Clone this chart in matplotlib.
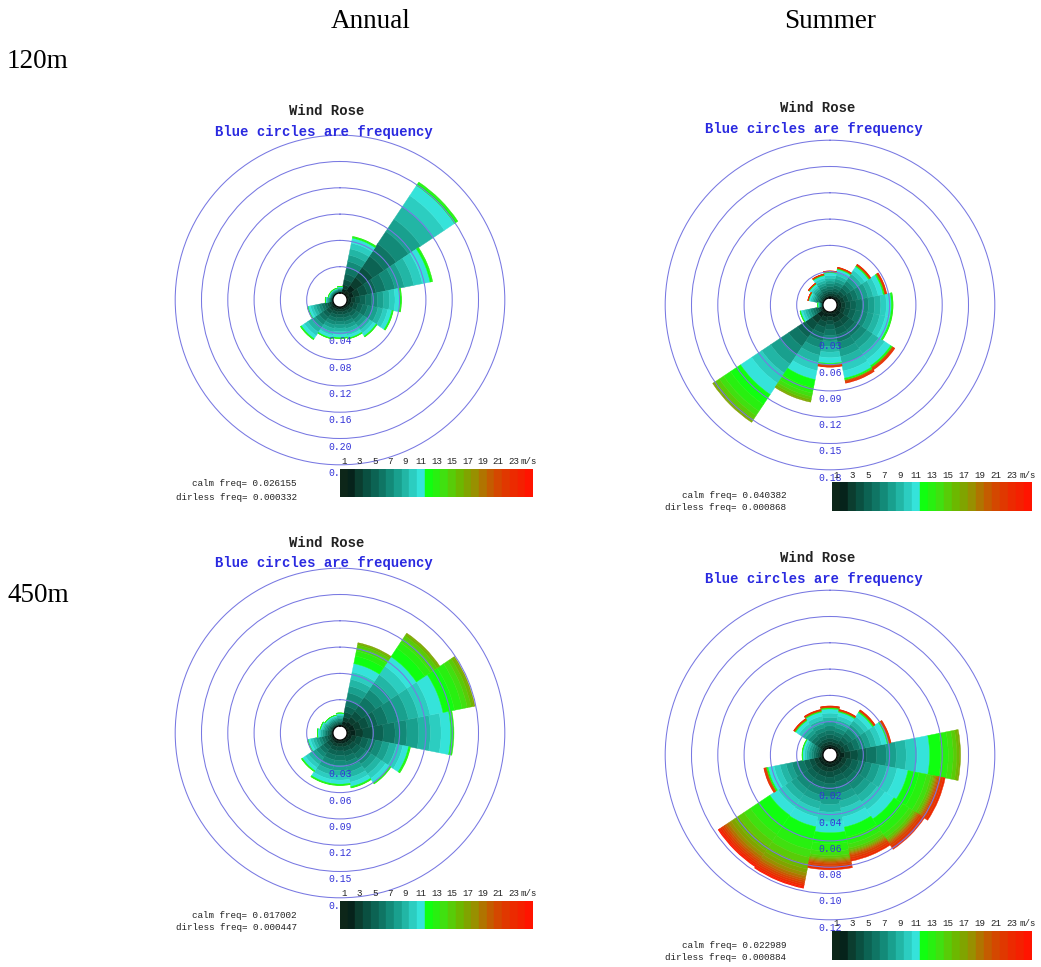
#!/usr/bin/env python3
"""
Wind rose comparison (120m / 450m, annual / summer), 16 sectors,
stacked by 1 m/s speed bins.  Saves out.png
"""
import numpy as np
import matplotlib
matplotlib.use("Agg")
import matplotlib.pyplot as plt

W, H = 1041, 967          # output size in pixels (dpi 100)
RING_PX = 26.3            # pixel gap between frequency circles
HOLE_PX = 7               # white hole in the middle

DIRS = ["N", "NNE", "NE", "ENE", "E", "ESE", "SE", "SSE",
        "S", "SSW", "SW", "WSW", "W", "WNW", "NW", "NNW"]

SPEED_LABELS = ["1", "3", "5", "7", "9", "11", "13", "15", "17", "19", "21", "23", "m/s"]
SPEED_COLORS = ["#0d2619", "#06231b", "#0b3d2f", "#0a5041", "#0c6353", "#0f7564",
                "#138a78", "#19a08e", "#22b6a5", "#2ccdc0", "#35e3da",
                "#10ff10", "#28f010", "#40e010", "#58cc08", "#6cb800", "#80a400",
                "#989000", "#b07400", "#c45c00", "#d44800", "#e03800", "#ec2a00",
                "#f42000", "#ff1400"]

# share of each 1 m/s bin inside one sector
PROFILES = {
    "calm":   [0.03, 0.05, 0.07, 0.09, 0.10, 0.11, 0.11, 0.11, 0.11, 0.10, 0.09, 0.02, 0.01],
    "rim":    [0.03, 0.05, 0.07, 0.08, 0.09, 0.10, 0.10, 0.10, 0.10, 0.10, 0.10, 0.02, 0.01,
               0, 0, 0, 0, 0, 0, 0.01, 0.01, 0.01, 0.01],
    "breezy": [0.02, 0.04, 0.05, 0.06, 0.07, 0.08, 0.08, 0.08, 0.08, 0.09, 0.10, 0.09, 0.06,
               0.04, 0.03, 0.02, 0.01],
    "gusty":  [0.02, 0.03, 0.04, 0.05, 0.06, 0.06, 0.06, 0.07, 0.07, 0.09, 0.10, 0.10, 0.07,
               0.04, 0.02, 0.01, 0.01, 0.01, 0.01, 0.01, 0.02, 0.02, 0.02],
    "windy":  [0.015, 0.025, 0.035, 0.04, 0.045, 0.05, 0.05, 0.05, 0.055, 0.065, 0.075, 0.10, 0.08,
               0.06, 0.05, 0.04, 0.03, 0.025, 0.02, 0.015, 0.015, 0.015, 0.015, 0.01, 0.005],
}

# ── 120 m annual ────────────────────────────────────────────────
A120_FREQ = [0.010, 0.088, 0.205, 0.133, 0.083, 0.072, 0.057, 0.050,
             0.048, 0.050, 0.062, 0.040, 0.012, 0.008, 0.008, 0.008]
A120_KIND = ["calm"] * 16
A120_RINGS = ["0.04", "0.08", "0.12", "0.16", "0.20", "0.24"]
A120_CALM = ("0.026155", "0.000332")

# ── 120 m summer ────────────────────────────────────────────────
S120_FREQ = [0.031, 0.036, 0.048, 0.058, 0.064, 0.064, 0.081, 0.083,
             0.063, 0.105, 0.153, 0.027, 0.006, 0.018, 0.022, 0.028]
S120_KIND = ["rim", "rim", "rim", "rim", "calm", "calm", "rim", "rim",
             "rim", "breezy", "breezy", "calm", "calm", "rim", "rim", "rim"]
S120_RINGS = ["0.03", "0.06", "0.09", "0.12", "0.15", "0.18"]
S120_CALM = ("0.040382", "0.000868")

# ── 450 m annual ────────────────────────────────────────────────
A450_FREQ = [0.015, 0.097, 0.129, 0.149, 0.122, 0.074, 0.062, 0.056,
             0.052, 0.052, 0.045, 0.030, 0.018, 0.015, 0.013, 0.013]
A450_KIND = ["calm", "breezy", "breezy", "breezy", "calm", "calm", "calm", "calm",
             "calm", "calm", "calm", "calm", "calm", "calm", "calm", "calm"]
A450_RINGS = ["0.03", "0.06", "0.09", "0.12", "0.15", "0.18"]
A450_CALM = ("0.017002", "0.000447")

# ── 450 m summer ────────────────────────────────────────────────
S450_FREQ = [0.032, 0.030, 0.036, 0.042, 0.094, 0.084, 0.081, 0.077,
             0.082, 0.098, 0.097, 0.046, 0.016, 0.016, 0.028, 0.030]
S450_KIND = ["rim", "rim", "rim", "rim", "breezy", "gusty", "gusty", "gusty",
             "gusty", "windy", "windy", "rim", "calm", "calm", "rim", "rim"]
S450_RINGS = ["0.02", "0.04", "0.06", "0.08", "0.10", "0.12"]
S450_CALM = ("0.022989", "0.000884")

RING_COLOR = "#7878e2"
LABEL_BLUE = "#3434d8"
MONO = "Liberation Mono"

fig = plt.figure(figsize=(W / 100, H / 100), dpi=100)
fig.patch.set_facecolor("white")


def fx(x):
    return x / W


def fy(y):
    return 1 - y / H


def rose(cx, cy, freq, kinds, rings):
    vals = [float(v) for v in rings]
    step = vals[1] - vals[0]
    scale = RING_PX / step                      # px per frequency unit
    r0 = HOLE_PX / scale
    top = vals[-1] + 3 / scale
    R = (top + r0) * scale
    ax = fig.add_axes([fx(cx - R), fy(cy + R), 2 * R / W, 2 * R / H], projection="polar")
    ax.set_theta_zero_location("N")
    ax.set_theta_direction(-1)
    ax.set_rorigin(-r0)
    ax.set_ylim(0, top)
    ax.patch.set_visible(False)
    ax.spines["polar"].set_visible(False)
    ax.set_thetagrids([])
    ax.set_rgrids(vals, labels=[])
    ax.tick_params(length=0)
    ax.grid(True, axis="y", color=RING_COLOR, lw=0.75)
    ax.set_axisbelow(False)                     # circles run over the wedges

    width = 2 * np.pi / len(DIRS)
    theta = np.arange(len(DIRS)) * width
    table = np.zeros((len(DIRS), len(SPEED_COLORS)))
    for i, (f, k) in enumerate(zip(freq, kinds)):
        p = np.array(PROFILES[k], dtype=float)
        table[i, :len(p)] = f * p / p.sum()
    bottom = np.zeros(len(DIRS))
    for s, c in enumerate(SPEED_COLORS):
        h = table[:, s]
        keep = h > 0                            # empty bins would leave an edge line
        if keep.any():
            ax.bar(theta[keep], h[keep], width=width, bottom=bottom[keep], color=c,
                   edgecolor=c, linewidth=0.3, align="center", zorder=1)
        bottom += h

    for lab, v in zip(rings, vals):
        ax.annotate(lab, xy=(np.pi, v), xytext=(0, -8), textcoords="offset pixels",
                    ha="center", va="center", color=LABEL_BLUE, fontsize=7,
                    family=MONO, zorder=5, annotation_clip=False)
    return ax


def colorbar(x0, y0, x1, y1):
    ax = fig.add_axes([fx(x0), fy(y1), (x1 - x0) / W, (y1 - y0) / H])
    n = len(SPEED_COLORS)
    ax.bar(np.arange(n), np.ones(n), width=1, align="edge",
           color=SPEED_COLORS, edgecolor=SPEED_COLORS, linewidth=0.3)
    ax.set_xlim(0, n)
    ax.set_ylim(0, 1)
    ax.axis("off")
    for j, lab in enumerate(SPEED_LABELS):
        ax.annotate(lab, xy=(2 * j + 0.5, 1), xytext=(0, 7), textcoords="offset pixels",
                    ha="center", va="center", fontsize=6.6, family=MONO,
                    color="#222222", annotation_clip=False)


def titles(cx1, y1, cx2, y2):
    fig.text(fx(cx1), fy(y1), "Wind Rose", ha="center", va="center",
             fontsize=10, family=MONO, fontweight="bold", color="#222222")
    fig.text(fx(cx2), fy(y2), "Blue circles are frequency", ha="center", va="center",
             fontsize=10, family=MONO, fontweight="bold", color="#2a2ae0")


def calm_text(xr, y1, y2, vals):
    fig.text(fx(xr), fy(y1), f"calm freq= {vals[0]}", ha="right", va="center",
             fontsize=6.7, family=MONO, color="#222222")
    fig.text(fx(xr), fy(y2), f"dirless freq= {vals[1]}", ha="right", va="center",
             fontsize=6.7, family=MONO, color="#222222")


# top left: 120 m annual
rose(340, 300, A120_FREQ, A120_KIND, A120_RINGS)
titles(327, 111, 324, 132)
colorbar(340, 469, 533, 497)
calm_text(297, 483, 497, A120_CALM)

# top right: 120 m summer
rose(830, 305, S120_FREQ, S120_KIND, S120_RINGS)
titles(818, 108, 814, 129)
colorbar(832, 482, 1032, 511)
calm_text(786, 495, 508, S120_CALM)

# bottom left: 450 m annual
rose(340, 733, A450_FREQ, A450_KIND, A450_RINGS)
titles(327, 543, 324, 563)
colorbar(340, 901, 533, 929)
calm_text(297, 915, 928, A450_CALM)

# bottom right: 450 m summer
rose(830, 755, S450_FREQ, S450_KIND, S450_RINGS)
titles(818, 558, 814, 579)
colorbar(832, 931, 1032, 960)
calm_text(786, 945, 958, S450_CALM)

# row / column headers
SERIF = "Liberation Serif"
fig.text(fx(371), fy(21), "Annual", ha="center", va="center", fontsize=19.5, family=SERIF)
fig.text(fx(830), fy(21), "Summer", ha="center", va="center", fontsize=19.5, family=SERIF)
fig.text(fx(7), fy(62), "120m", ha="left", va="center", fontsize=19.5, family=SERIF)
fig.text(fx(7), fy(596), "450m", ha="left", va="center", fontsize=19.5, family=SERIF)

fig.savefig("out.png", dpi=100, facecolor="white")
plt.close(fig)
